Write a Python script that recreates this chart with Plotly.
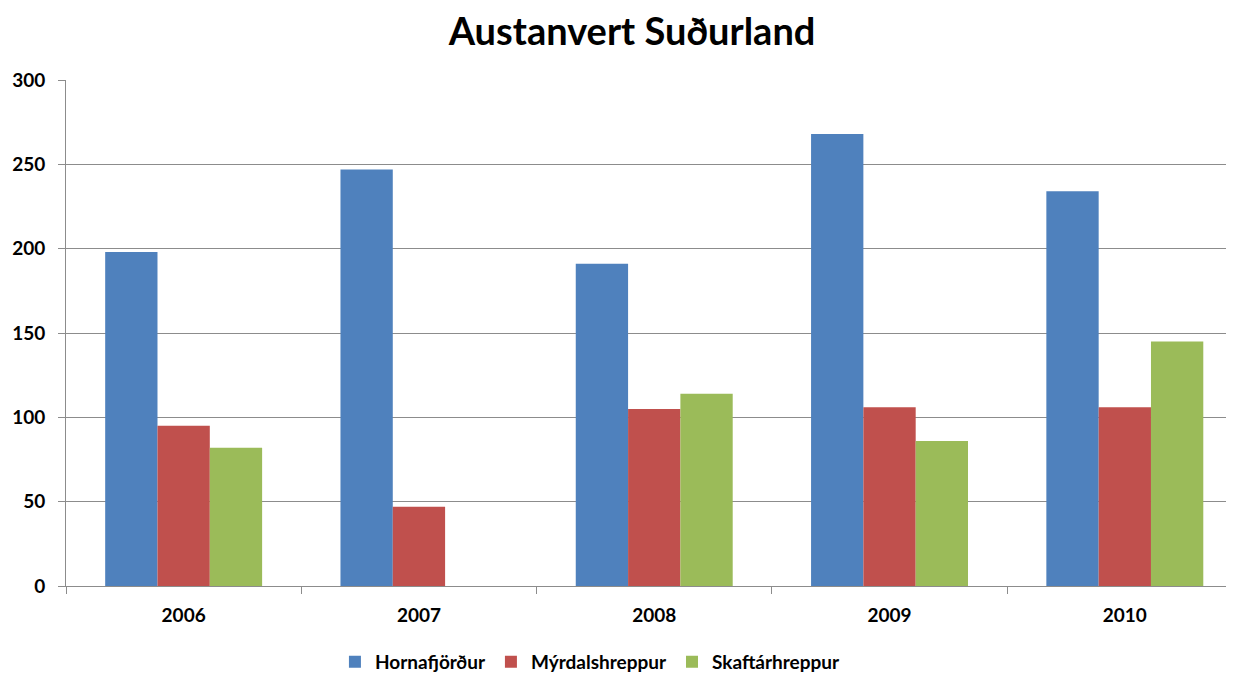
import plotly.graph_objects as go

years = ["2006", "2007", "2008", "2009", "2010"]
hornafjordur = [198, 247, 191, 268, 234]
myrdalshreppur = [95, 47, 105, 106, 106]
skaftarhreppur = [82, None, 114, 86, 145]

series_names = ["Hornafjörður", "Mýrdalshreppur", "Skaftárhreppur"]
colors = ["#4F81BD", "#C0504D", "#9BBB59"]
y_ticks = [0, 50, 100, 150, 200, 250, 300]

FONT = "Lato, 'Open Sans', sans-serif"

fig = go.Figure()
for name, vals, col in zip(series_names, [hornafjordur, myrdalshreppur, skaftarhreppur], colors):
    fig.add_trace(go.Bar(
        x=years, y=vals, name=name,
        marker=dict(color=col, line=dict(width=0)),
    ))

# the page body adds an 8px offset, so the figure is sized to fit the remaining window
fig.update_layout(
    width=1226, height=666,
    paper_bgcolor="white", plot_bgcolor="white",
    margin=dict(l=58, r=0, t=72, b=88, autoexpand=False),
    barmode="group", bargap=0.333, bargroupgap=0,
    title=dict(text="<b>Austanvert Suðurland</b>", x=0.509, xanchor="center",
               y=0.965, yanchor="middle",
               font=dict(family=FONT, size=38, color="black")),
    font=dict(family=FONT, color="black"),
    showlegend=True,
    legend=dict(orientation="h", x=0.449, xanchor="center", y=-0.15, yanchor="middle",
                font=dict(family=FONT, size=19, color="black", weight="bold"),
                itemwidth=30, traceorder="normal"),
    xaxis=dict(
        type="category", range=[-0.5, 4.464], automargin=False,
        showline=True, linecolor="#8c8c8c", linewidth=1,
        ticks="outside", tickson="boundaries", ticklen=7, tickcolor="#8c8c8c",
        showgrid=False, ticklabelstandoff=12,
        tickfont=dict(family=FONT, size=19, color="black", weight="bold"),
    ),
    yaxis=dict(
        range=[0, 300], tickvals=y_ticks, ticktext=[str(v) for v in y_ticks],
        automargin=False,
        showline=True, linecolor="#8c8c8c", linewidth=1,
        ticks="outside", ticklen=7, tickcolor="#8c8c8c",
        showgrid=True, gridcolor="#8c8c8c", gridwidth=1,
        zeroline=False, ticklabelstandoff=9,
        tickfont=dict(family=FONT, size=19, color="black", weight="bold"),
    ),
)

fig.write_html("out.html")
